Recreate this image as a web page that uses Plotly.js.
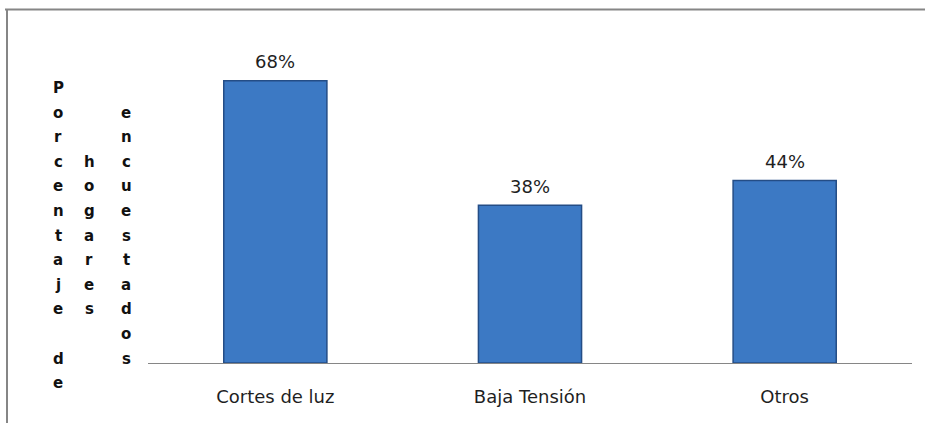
<!DOCTYPE html>
<html>
<head>
<meta charset="utf-8">
<script src="https://cdn.plot.ly/plotly-3.0.1.min.js"></script>
<style>
html,body{margin:0;padding:0;background:#fff;}
#chart{width:925px;height:423px;}
</style>
</head>
<body>
<div id="chart"></div>
<script>
// ---- data ----
var categories = ["Cortes de luz", "Baja Tensión", "Otros"];
var values = [68, 38, 44];
var valueLabels = ["68%", "38%", "44%"];
// y-axis title as it wraps in the original: one column per word group
var yTitleColumns = ["Porcentaje de", "hogares", "encuestados"];
var yTitleStartRows = [0, 3, 1];

// ---- layout geometry ----
var W = 925, H = 423;
var M = {l: 148, r: 13, t: 31, b: 60};
var PW = W - M.l - M.r, PH = H - M.t - M.b;
function px2x(px){ return (px - M.l) / PW; }
function py2y(py){ return (H - M.b - py) / PH; }

var colX = [58, 89, 126];
var row0 = 88, rowStep = 24.6;

var annotations = [];
// value labels above bars
for (var i = 0; i < categories.length; i++) {
  annotations.push({
    x: categories[i], y: values[i], xref: 'x', yref: 'y',
    text: valueLabels[i], showarrow: false,
    xanchor: 'center', yanchor: 'middle', yshift: 19,
    font: {family: 'DejaVu Sans', size: 18, color: '#1f1f1f'}
  });
}
// stacked y-axis title letters
for (var c = 0; c < yTitleColumns.length; c++) {
  var s = yTitleColumns[c];
  for (var k = 0; k < s.length; k++) {
    var ch = s[k];
    if (ch === ' ') continue;
    annotations.push({
      x: px2x(colX[c]), y: py2y(row0 + rowStep * (yTitleStartRows[c] + k)),
      xref: 'paper', yref: 'paper', text: '<b>' + ch + '</b>', showarrow: false,
      xanchor: 'center', yanchor: 'middle',
      font: {family: 'DejaVu Sans', size: 15, color: '#111'}
    });
  }
}

var shapes = [
  {type: 'line', xref: 'paper', yref: 'paper',
   x0: px2x(5), x1: px2x(930), y0: py2y(9.5), y1: py2y(9.5),
   line: {color: '#868686', width: 2}},
  {type: 'line', xref: 'paper', yref: 'paper',
   x0: px2x(7), x1: px2x(7), y0: py2y(9), y1: py2y(430),
   line: {color: '#868686', width: 2}}
];

var trace = {
  type: 'bar', x: categories, y: values,
  marker: {color: '#3c79c4', line: {color: '#244d86', width: 1.5}},
  hoverinfo: 'skip'
};

var layout = {
  width: W, height: H,
  margin: M,
  paper_bgcolor: '#fff', plot_bgcolor: '#fff',
  showlegend: false,
  bargap: 0.595,
  xaxis: {
    showline: true, linecolor: '#868686', linewidth: 1,
    ticks: '', showgrid: false, zeroline: false,
    ticklabelstandoff: 17,
    tickfont: {family: 'DejaVu Sans', size: 18, color: '#1f1f1f'}
  },
  yaxis: {
    range: [0, 80], showticklabels: false, showgrid: false,
    zeroline: false, showline: false, ticks: ''
  },
  annotations: annotations,
  shapes: shapes
};

Plotly.newPlot('chart', [trace], layout, {displayModeBar: false, staticPlot: true});
</script>
</body>
</html>
